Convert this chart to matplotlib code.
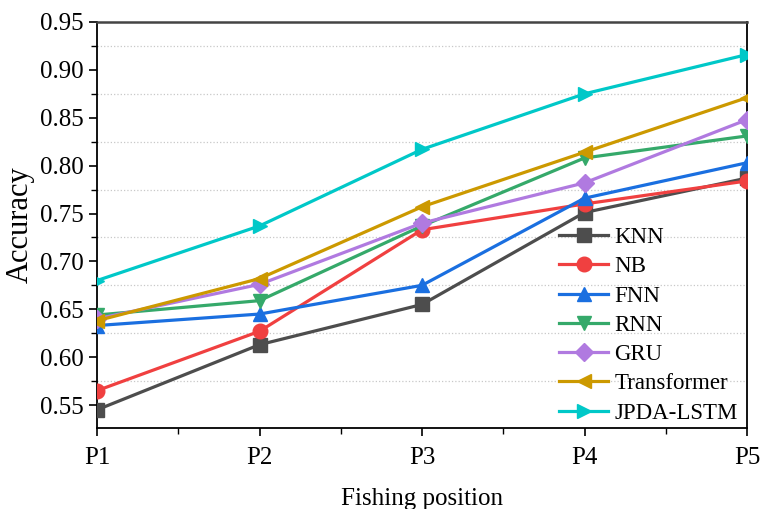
import matplotlib
matplotlib.use('Agg')
import matplotlib.pyplot as plt
from matplotlib.ticker import MultipleLocator

plt.rcParams['font.family'] = ['Liberation Serif', 'DejaVu Serif']

positions = ['P1', 'P2', 'P3', 'P4', 'P5']

knn = [0.545, 0.613, 0.655, 0.751, 0.787]
nb = [0.565, 0.627, 0.733, 0.760, 0.784]
fnn = [0.633, 0.645, 0.675, 0.766, 0.803]
rnn = [0.644, 0.659, 0.737, 0.808, 0.831]
gru = [0.640, 0.676, 0.740, 0.782, 0.848]
transformer = [0.638, 0.682, 0.757, 0.814, 0.871]
jpda_lstm = [0.680, 0.737, 0.817, 0.875, 0.916]

series = [
    ('KNN', knn, '#4d4d4d', 's'),
    ('NB', nb, '#f04040', 'o'),
    ('FNN', fnn, '#1a6fe0', '^'),
    ('RNN', rnn, '#35a96a', 'v'),
    ('GRU', gru, '#b07ae0', 'D'),
    ('Transformer', transformer, '#cc9900', '<'),
    ('JPDA-LSTM', jpda_lstm, '#00c8c8', '>'),
]

fig = plt.figure(figsize=(7.61, 5.09), dpi=100)
ax = fig.add_axes([97 / 761, 1 - 428 / 509, 650 / 761, 406 / 509])

x = range(len(positions))
for name, vals, color, marker in series:
    ms = 9 if marker == 'D' else 10.5
    ax.plot(x, vals, color=color, marker=marker, markersize=ms,
            linewidth=2.3, label=name, zorder=3)

ax.set_xlim(0, 4)
ax.set_ylim(0.526, 0.95)
ax.set_xticks(list(x))
ax.set_xticklabels(positions)
ax.xaxis.set_minor_locator(MultipleLocator(0.5))
ax.yaxis.set_major_locator(MultipleLocator(0.05))
ax.yaxis.set_minor_locator(MultipleLocator(0.025))
ax.yaxis.set_major_formatter(plt.FormatStrFormatter('%.2f'))
ax.grid(which='minor', axis='y', linestyle=':', color='#c8c8c8', linewidth=0.9)

ax.tick_params(which='both', direction='out', labelsize=18, top=False, right=False)
ax.tick_params(which='major', length=6, width=1.2)
ax.tick_params(which='minor', length=4, width=1.0)
ax.tick_params(axis='x', pad=8)
for side in ['left', 'bottom', 'right']:
    ax.spines[side].set_linewidth(1.3)
    ax.spines[side].set_color('black')
ax.spines['top'].set_linewidth(1.8)
ax.spines['top'].set_color('#444444')

ax.set_xlabel('Fishing position', fontsize=18, labelpad=13)
ax.set_ylabel('Accuracy', fontsize=22, labelpad=4)

ax.legend(loc='lower right', frameon=False, fontsize=16.5, handlelength=2.1,
          labelspacing=0.36, handletextpad=0.3, borderaxespad=0.0,
          bbox_to_anchor=(1.0, -0.012))

fig.savefig('out.png', dpi=100)
